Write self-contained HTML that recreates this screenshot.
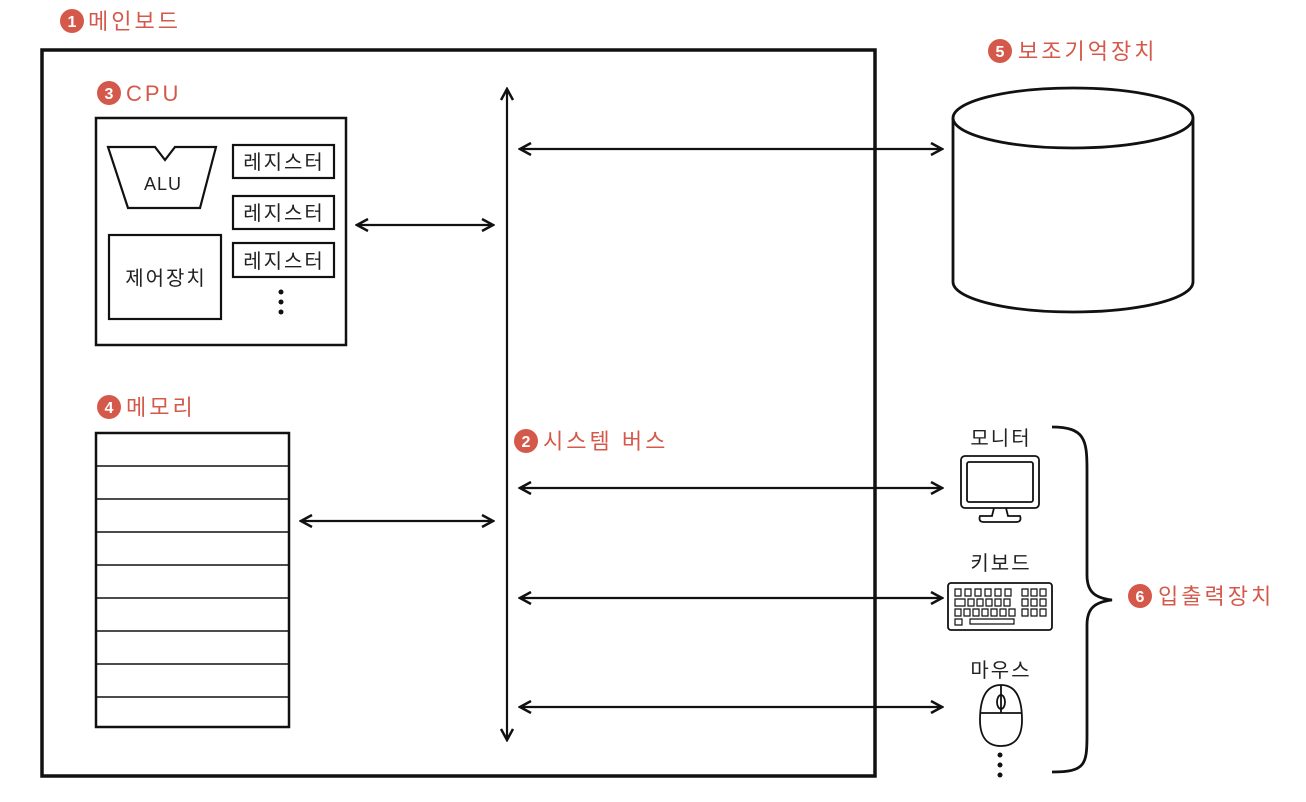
<!DOCTYPE html>
<html><head><meta charset="utf-8"><style>
html,body{margin:0;padding:0;background:#fff;}
svg{display:block}
text{font-family:"Liberation Sans","Noto Sans CJK KR",sans-serif;}
.r{fill:#d4594a;font-size:22px;letter-spacing:3px}
.k{fill:#222;font-size:20px;letter-spacing:2px}
</style></head><body>
<svg width="1306" height="802" viewBox="0 0 1306 802" xmlns="http://www.w3.org/2000/svg">
<defs>
<marker id="a" viewBox="0 0 14 14" refX="12" refY="7" markerWidth="14" markerHeight="14" markerUnits="userSpaceOnUse" orient="auto-start-reverse">
<path d="M1,1 L12,7 L1,13" fill="none" stroke="#111" stroke-width="2.5"/>
</marker>
</defs>
<g fill="none" stroke="#111">
<rect x="42" y="50" width="833" height="726" stroke-width="3.5"/>
<rect x="96" y="118" width="250" height="227" stroke-width="2.5"/>
<path d="M108,147 L155,147 L165,160 L175,147 L216,147 L200,208 L128,208 Z" stroke-width="2.2"/>
<rect x="233" y="145" width="101" height="33" stroke-width="2.2"/>
<rect x="233" y="196" width="101" height="33" stroke-width="2.2"/>
<rect x="233" y="243" width="101" height="34" stroke-width="2.2"/>
<rect x="109" y="235" width="112" height="84" stroke-width="2.2"/>
<rect x="96" y="433" width="193" height="294" stroke-width="2.5"/>
<path d="M96,466H289M96,499H289M96,532H289M96,565H289M96,598H289M96,631H289M96,664H289M96,697H289" stroke-width="1.5"/>
<g stroke-width="2.2">
<line x1="507" y1="89" x2="507" y2="740" marker-start="url(#a)" marker-end="url(#a)"/>
<line x1="357" y1="225" x2="493" y2="225" marker-start="url(#a)" marker-end="url(#a)"/>
<line x1="301" y1="521" x2="493" y2="521" marker-start="url(#a)" marker-end="url(#a)"/>
<line x1="520" y1="149" x2="942" y2="149" marker-start="url(#a)" marker-end="url(#a)"/>
<line x1="520" y1="488" x2="942" y2="488" marker-start="url(#a)" marker-end="url(#a)"/>
<line x1="520" y1="598" x2="942" y2="598" marker-start="url(#a)" marker-end="url(#a)"/>
<line x1="520" y1="707" x2="942" y2="707" marker-start="url(#a)" marker-end="url(#a)"/>
</g>
<g stroke-width="2.8">
<ellipse cx="1073" cy="118" rx="120" ry="30"/>
<path d="M953,118 V282 A120,30 0 0 0 1193,282 V118"/>
</g>
<g stroke-width="1.8">
<rect x="961" y="456" width="78" height="52" rx="4"/>
<rect x="967" y="462" width="66" height="40" rx="2"/>
<path d="M994,508 L992,516 L980,516 Q978,522 984,522 L1016,522 Q1022,522 1020,516 L1008,516 L1006,508"/>
<rect x="948" y="583" width="104" height="47" rx="3"/>
<path d="M955,589h6v7h-6zM965,589h6v7h-6zM975,589h6v7h-6zM985,589h6v7h-6zM995,589h6v7h-6zM1005,589h6v7h-6zM1022,589h6v7h-6zM1031,589h6v7h-6zM1040,589h6v7h-6zM955,599h10v7h-10zM968,599h6v7h-6zM977,599h6v7h-6zM986,599h6v7h-6zM995,599h6v7h-6zM1004,599h6v7h-6zM1022,599h6v7h-6zM1031,599h6v7h-6zM1040,599h6v7h-6zM955,609h6v7h-6zM964,609h6v7h-6zM973,609h6v7h-6zM982,609h6v7h-6zM991,609h6v7h-6zM1000,609h6v7h-6zM1009,609h6v7h-6zM1022,609h6v7h-6zM1031,609h6v7h-6zM1040,609h6v7h-6zM955,619h7v6h-7zM970,619h44v5h-44z" stroke-width="1.2"/>
<path d="M1001,685 C985,685 980,700 980,720 C980,738 988,746 1001,746 C1014,746 1022,738 1022,720 C1022,700 1017,685 1001,685 Z"/>
<path d="M981,713 H1021 M1001,685 V713"/>
<ellipse cx="1001" cy="702" rx="4" ry="7"/>
</g>
<path d="M1052,427 C1085,427 1087,440 1087,470 L1087,575 C1087,592 1095,598 1112,600 C1095,602 1087,608 1087,625 L1087,735 C1087,765 1085,772 1052,772" stroke-width="2.8"/>
</g>
<g fill="#111">
<circle cx="281" cy="292" r="2.5"/><circle cx="281" cy="302" r="2.5"/><circle cx="281" cy="312" r="2.5"/>
<circle cx="1000" cy="755" r="2.5"/><circle cx="1000" cy="765" r="2.5"/><circle cx="1000" cy="775" r="2.5"/>
</g>
<g fill="#d4594a">
<circle cx="72" cy="21" r="12"/><circle cx="109" cy="93" r="12"/><circle cx="109" cy="407" r="12"/>
<circle cx="526" cy="441" r="12"/><circle cx="1000" cy="51" r="12"/><circle cx="1140" cy="596" r="12"/>
</g>
<g fill="#fff" font-size="16" font-weight="bold" text-anchor="middle">
<text x="72" y="27">1</text><text x="109" y="99">3</text><text x="109" y="413">4</text>
<text x="526" y="447">2</text><text x="1000" y="57">5</text><text x="1140" y="602">6</text>
</g>
<text class="r" x="88" y="29">메인보드</text>
<text class="r" x="126" y="101">CPU</text>
<text class="r" x="126" y="415">메모리</text>
<text class="r" x="543" y="449">시스템 버스</text>
<text class="r" x="1018" y="59">보조기억장치</text>
<text class="r" x="1158" y="604">입출력장치</text>
<g class="k" text-anchor="middle">
<text x="163" y="190" font-size="18" letter-spacing="1">ALU</text>
<text x="284" y="169">레지스터</text>
<text x="284" y="220">레지스터</text>
<text x="284" y="268">레지스터</text>
<text x="166" y="285">제어장치</text>
<text x="1001" y="445">모니터</text>
<text x="1001" y="570">키보드</text>
<text x="1001" y="677">마우스</text>
</g>
</svg>
</body></html>
